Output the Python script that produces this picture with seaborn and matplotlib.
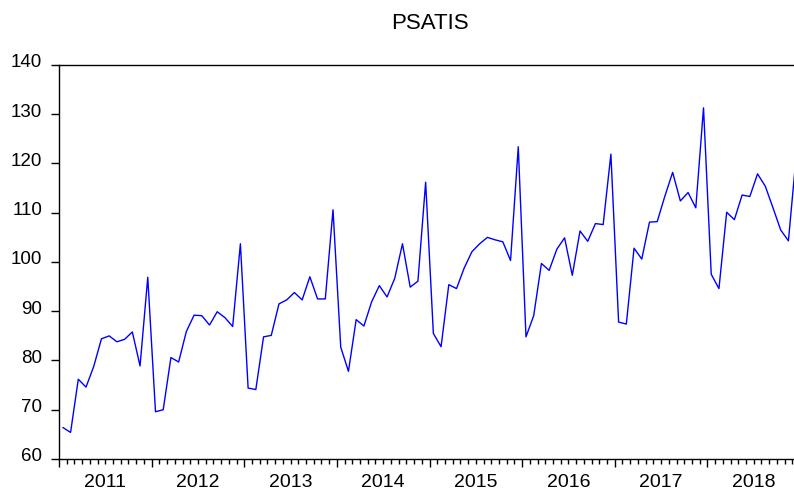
import pandas as pd
import seaborn as sns
import matplotlib.pyplot as plt
import matplotlib.transforms as mtransforms
import numpy as np
from matplotlib.ticker import FixedLocator, NullFormatter

# monthly PSATIS values, Jan 2011 .. Dec 2018
years = [2011, 2012, 2013, 2014, 2015, 2016, 2017, 2018]
v2011 = [66.4, 65.4, 76.2, 74.6, 78.8, 84.4, 85.0, 83.8, 84.3, 85.8, 78.9, 96.9]
v2012 = [69.6, 70.0, 80.6, 79.7, 85.9, 89.2, 89.1, 87.2, 89.9, 88.7, 86.9, 103.7]
v2013 = [74.4, 74.1, 84.8, 85.1, 91.5, 92.3, 93.8, 92.3, 97.0, 92.5, 92.5, 110.6]
v2014 = [82.7, 77.8, 88.3, 87.0, 91.9, 95.2, 92.9, 96.7, 103.7, 94.9, 96.1, 116.2]
v2015 = [85.5, 82.8, 95.4, 94.6, 98.8, 102.1, 103.7, 105.0, 104.5, 104.1, 100.3, 123.4]
v2016 = [84.8, 89.1, 99.7, 98.3, 102.6, 104.9, 97.3, 106.3, 104.2, 107.8, 107.6, 121.9]
v2017 = [87.8, 87.4, 102.8, 100.6, 108.1, 108.2, 113.4, 118.2, 112.4, 114.1, 111.0, 131.3]
v2018 = [97.5, 94.6, 110.1, 108.6, 113.6, 113.3, 117.9, 115.4, 111.0, 106.5, 104.3, 121.5]

values = v2011 + v2012 + v2013 + v2014 + v2015 + v2016 + v2017 + v2018
df = pd.DataFrame({"month": np.arange(len(values)) + 0.5, "psatis": values})

sns.set_style("ticks")
plt.rcParams["font.family"] = ["Liberation Sans", "DejaVu Sans"]
plt.rcParams["text.color"] = "black"
plt.rcParams["xtick.color"] = "black"
plt.rcParams["ytick.color"] = "black"

W, H = 794, 491
fig = plt.figure(figsize=(W / 100, H / 100), dpi=100)
# axes run a bit past the right edge of the image (picture is cropped there)
ax = fig.add_axes([59 / W, (H - 459) / H, (800 - 59) / W, (459 - 65) / H])

sns.lineplot(data=df, x="month", y="psatis", color="#0000ff", linewidth=1.0, ax=ax)

ax.set_xlim(0, 12 * len(years))
ax.set_ylim(60, 140)
ax.set_yticks(np.arange(60, 141, 10))
ax.set_xlabel("")
ax.set_ylabel("")
ax.set_title("PSATIS", fontsize=16, pad=26)

# year boundary ticks (major) and monthly ticks (minor)
ax.xaxis.set_major_locator(FixedLocator(np.arange(0, 12 * len(years) + 1, 12)))
ax.xaxis.set_major_formatter(NullFormatter())
ax.xaxis.set_minor_locator(FixedLocator(np.arange(0, 12 * len(years) + 1, 1)))
ax.tick_params(axis="x", which="major", length=5.5, width=1, direction="out")
ax.tick_params(axis="x", which="minor", length=3.8, width=1, direction="out")
ax.tick_params(axis="y", length=6, width=1, direction="out", labelsize=13.5, pad=6)

# y labels sit a little above their ticks
shift = mtransforms.ScaledTranslation(0, 3 / 72, fig.dpi_scale_trans)
for lbl in ax.get_yticklabels():
    lbl.set_transform(lbl.get_transform() + shift)

for i, yr in enumerate(years):
    ax.text(12 * i + 6, -0.039, str(yr), transform=ax.get_xaxis_transform(),
            ha="center", va="top", fontsize=14)

for side in ["left", "bottom", "top", "right"]:
    ax.spines[side].set_visible(True)
    ax.spines[side].set_color("black")
    ax.spines[side].set_linewidth(1)

fig.savefig("out.png", dpi=100)
